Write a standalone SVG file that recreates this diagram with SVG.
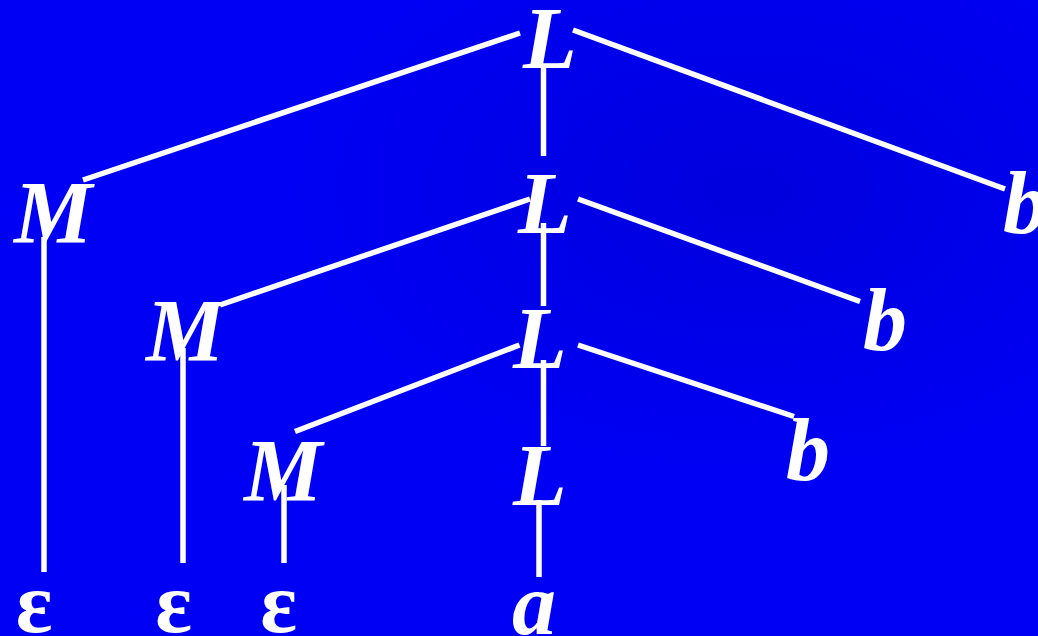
<svg xmlns="http://www.w3.org/2000/svg" width="1038" height="636" viewBox="0 0 1038 636">
  <defs>
    <radialGradient id="shade" cx="0.72" cy="0.3" r="0.45">
      <stop offset="0" stop-color="#0000D8" stop-opacity="0.8"/>
      <stop offset="1" stop-color="#0000D8" stop-opacity="0"/>
    </radialGradient>
    <style>
      .sym { font-family: "Liberation Serif", "Times New Roman", serif; font-weight: bold; font-style: italic; font-size: 88px; fill: #FFFFFF; text-anchor: middle; }
      .eps { font-family: "Liberation Serif", "Times New Roman", serif; font-weight: bold; font-size: 86px; fill: #FFFFFF; text-anchor: middle; }
      .edge { stroke: #FFFFFF; stroke-width: 5.5; fill: none; stroke-linecap: butt; }
    </style>
  </defs>
  <rect x="0" y="0" width="1038" height="636" fill="#0000F4"/>
  <rect x="0" y="0" width="1038" height="636" fill="url(#shade)"/>

  <g id="connectors">
    <line class="edge" x1="520" y1="33" x2="83" y2="180"/>
    <line class="edge" x1="543.5" y1="68" x2="543.5" y2="156"/>
    <line class="edge" x1="573" y1="30" x2="1005" y2="189"/>
    <line class="edge" x1="530" y1="199" x2="220" y2="305"/>
    <line class="edge" x1="543.5" y1="223" x2="543.5" y2="306"/>
    <line class="edge" x1="578" y1="199" x2="860" y2="301.5"/>
    <line class="edge" x1="44" y1="237" x2="44" y2="572"/>
    <line class="edge" x1="519.5" y1="345" x2="295" y2="431.5"/>
    <line class="edge" x1="543.5" y1="360" x2="543.5" y2="446"/>
    <line class="edge" x1="578" y1="345" x2="794" y2="416.5"/>
    <line class="edge" x1="183" y1="348" x2="183" y2="563"/>
    <line class="edge" x1="284" y1="485" x2="284" y2="563"/>
    <line class="edge" x1="539" y1="500" x2="539" y2="577"/>
  </g>

  <g id="L1"><text class="sym" x="550" y="68">L</text></g>
  <g id="L2"><text class="sym" x="545" y="233">L</text></g>
  <g id="L3"><text class="sym" x="540" y="368">L</text></g>
  <g id="L4"><text class="sym" x="540" y="505">L</text></g>
  <g id="M1"><text class="sym" x="53" y="242">M</text></g>
  <g id="M2"><text class="sym" x="185" y="360">M</text></g>
  <g id="M3"><text class="sym" x="283" y="500">M</text></g>
  <g id="b1"><text class="sym" x="1025" y="233">b</text></g>
  <g id="b2"><text class="sym" x="885" y="350">b</text></g>
  <g id="b3"><text class="sym" x="808" y="480">b</text></g>
  <g id="a"><text class="sym" x="534" y="634">a</text></g>
  <g id="eps1"><text class="eps" x="34" y="632">ε</text></g>
  <g id="eps2"><text class="eps" x="173.5" y="632">ε</text></g>
  <g id="eps3"><text class="eps" x="278.5" y="632">ε</text></g>
</svg>
